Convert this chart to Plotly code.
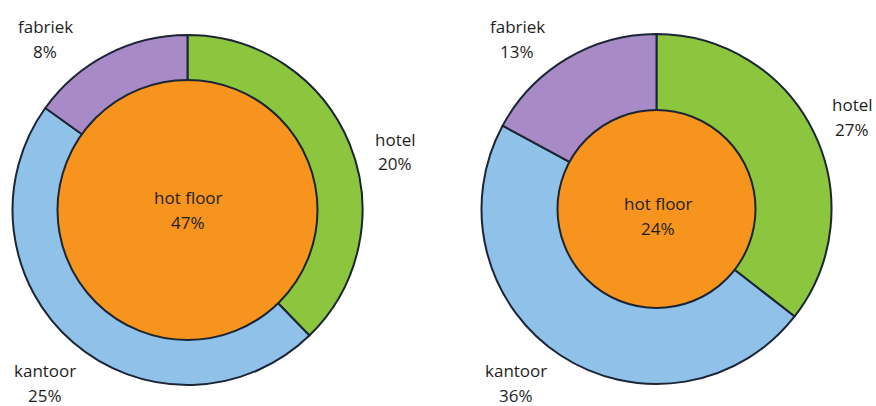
import plotly.graph_objects as go

ring_categories = ["hotel", "kantoor", "fabriek"]
left_ring_values = [20, 25, 8]
right_ring_values = [27, 36, 13]
center_category = "hot floor"
left_center_value = 47
right_center_value = 24

ring_colors = ["#8cc63e", "#8fc1e9", "#a88ac6"]
center_color = "#f7941d"
line_color = "#1b2535"
W, H = 876, 406

fig = go.Figure()

def px_dom(cx, cy, r):
    return dict(x=[(cx - r) / W, (cx + r) / W],
                y=[(H - cy - r) / H, (H - cy + r) / H])

def add_chart(vals, cval, cx, cy, r_out, r_in):
    fig.add_trace(go.Pie(labels=ring_categories, values=vals, sort=False,
                         direction="clockwise", rotation=0, textinfo="none",
                         marker=dict(colors=ring_colors, line=dict(color=line_color, width=2)),
                         domain=px_dom(cx, cy, r_out), showlegend=False, hoverinfo="label+value"))
    fig.add_trace(go.Pie(labels=[center_category], values=[cval], sort=False,
                         textinfo="none",
                         marker=dict(colors=[center_color], line=dict(color=line_color, width=2)),
                         domain=px_dom(cx, cy, r_in), showlegend=False, hoverinfo="label+value"))

add_chart(left_ring_values, left_center_value, 187.5, 210, 175, 130)
add_chart(right_ring_values, right_center_value, 656.5, 209, 175, 99)

font = dict(family="Open Sans", size=17, color="#1e1e1e")

def label(x, y, name, val):
    fig.add_annotation(x=x / W, y=1 - y / H, xref="paper", yref="paper", text=name,
                       showarrow=False, font=font, xanchor="center", yanchor="middle")
    fig.add_annotation(x=x / W, y=1 - (y + 25) / H, xref="paper", yref="paper", text=f"{val}%",
                       showarrow=False, font=font, xanchor="center", yanchor="middle")

# left chart labels
label(45, 26, ring_categories[2], left_ring_values[2])
label(395, 139, ring_categories[0], left_ring_values[0])
label(45, 370, ring_categories[1], left_ring_values[1])
label(188, 197, center_category, left_center_value)
# right chart labels
label(517, 26, ring_categories[2], right_ring_values[2])
label(852, 105, ring_categories[0], right_ring_values[0])
label(516, 370, ring_categories[1], right_ring_values[1])
label(658, 203, center_category, right_center_value)

fig.update_layout(width=W, height=H, margin=dict(l=0, r=0, t=0, b=0),
                  paper_bgcolor="white", plot_bgcolor="white")
fig.write_html("out.html")
